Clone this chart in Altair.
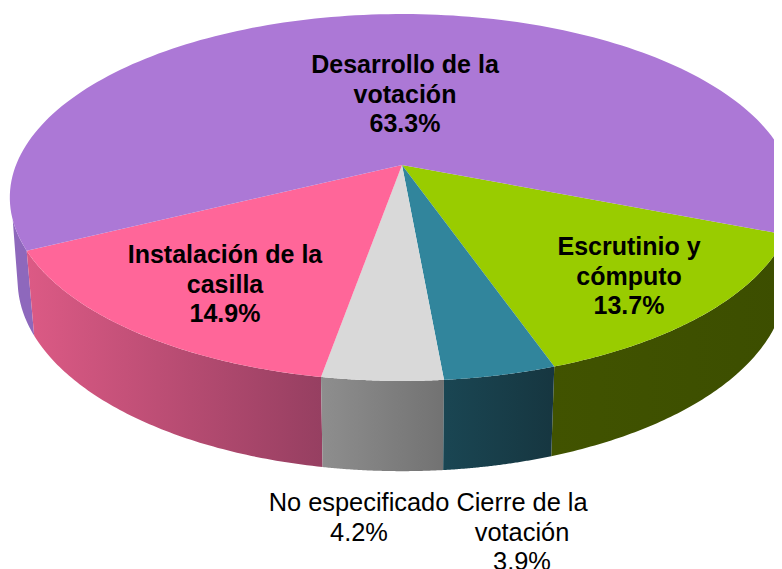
import math
import altair as alt
import pandas as pd

# Data
categories = ["Escrutinio y cómputo", "Cierre de la votación", "No especificado",
              "Instalación de la casilla", "Desarrollo de la votación"]
values = [13.7, 3.9, 4.2, 14.9, 63.3]

# Style
top_colors = ["#99CC00", "#31859C", "#D9D9D9", "#FF6699", "#AC78D6"]
wall_stops = [["#415300", "#3C4E00"], ["#1A4653", "#163640"], ["#8E8E8E", "#727272"],
              ["#DC5A85", "#963F61"], ["#8E68BC", "#8E68BC"]]

label_lines = [
    ["Escrutinio y", "cómputo", "13.7%"],
    ["Cierre de la", "votación", "3.9%"],
    ["No especificado", "4.2%"],
    ["Instalación de la", "casilla", "14.9%"],
    ["Desarrollo de la", "votación", "63.3%"],
]
label_x = [629, 522, 359, 225, 405]
label_y = [247, 503, 503, 255, 65]
label_bold = [True, False, False, True, True]

# Layout of the tilted disc, in page pixels
W, H = 774, 569
CX, AY, A, B, K = 402.0, 165.0, 386.0, 177.7, 0.177
START = 21.5


def top(t):
    X, Y = math.cos(t), math.sin(t)
    d = 1 - K * Y
    return CX + A * X / d, AY + B * Y / d


def bottom(t):
    x, y = top(t)
    return CX + 0.98 * (x - CX), y + 85 + 0.04 * (y - 250)


def arc(a0, a1, f, n=80):
    return [f(math.radians(a0 + (a1 - a0) * i / n)) for i in range(n + 1)]


xs = alt.Scale(domain=[8, W], range=[0, W - 8], nice=False, zero=False)
ys = alt.Scale(domain=[8, H], range=[0, H - 8], nice=False, zero=False)


def poly(pts, fill):
    df = pd.DataFrame({"x": [p[0] for p in pts], "y": [p[1] for p in pts], "i": range(len(pts))})
    return alt.Chart(df).mark_line(fill=fill, stroke=None, strokeWidth=0, interpolate="linear-closed", clip=True).encode(
        x=alt.X("x:Q", scale=xs, axis=None),
        y=alt.Y("y:Q", scale=ys, axis=None),
        order="i:Q",
    )


def grad(c0, c1):
    return alt.Gradient(gradient="linear", x1=0, x2=1, y1=0, y2=0,
                        stops=[alt.GradientStop(offset=0, color=c0), alt.GradientStop(offset=1, color=c1)])


angles = [START]
for v in values:
    angles.append(angles[-1] + v * 3.6)

layers = []
# back-most purple walls first
layers.append(poly(arc(angles[4], 163, top) + arc(angles[4], 168, bottom)[::-1], wall_stops[4][0]))
layers.append(poly(arc(0, angles[0], top) + arc(0, angles[0], bottom)[::-1], "#4A3A60"))
# front walls
for i in [3, 0, 2, 1]:
    a0, a1 = angles[i], angles[i + 1]
    layers.append(poly(arc(a0, a1, top) + arc(a0, a1, bottom)[::-1], grad(*wall_stops[i])))
# top slices
for i in range(5):
    a0, a1 = angles[i], angles[i + 1]
    layers.append(poly([(CX, AY)] + arc(a0, a1, top, 160), top_colors[i]))

# labels
LINE = 29.5
rows = []
for i, lines in enumerate(label_lines):
    for j, s in enumerate(lines):
        rows.append({"t": s, "x": label_x[i], "y": label_y[i] + j * LINE, "b": label_bold[i]})
ldf = pd.DataFrame(rows)
for flag, weight, size in [(True, "bold", 25), (False, "normal", 25.4)]:
    layers.append(alt.Chart(ldf[ldf.b == flag]).mark_text(
        font="Liberation Sans", fontSize=size, fontWeight=weight, color="black", align="center", baseline="middle"
    ).encode(
        x=alt.X("x:Q", scale=xs, axis=None),
        y=alt.Y("y:Q", scale=ys, axis=None),
        text="t:N",
    ))

chart = alt.layer(*layers).properties(
    width=W - 8, height=H - 8, padding=0,
    autosize=alt.AutoSizeParams(type="none"),
    background="white",
).configure_view(stroke=None)

chart.save("out.html", embed_options={"renderer": "svg", "actions": False})
